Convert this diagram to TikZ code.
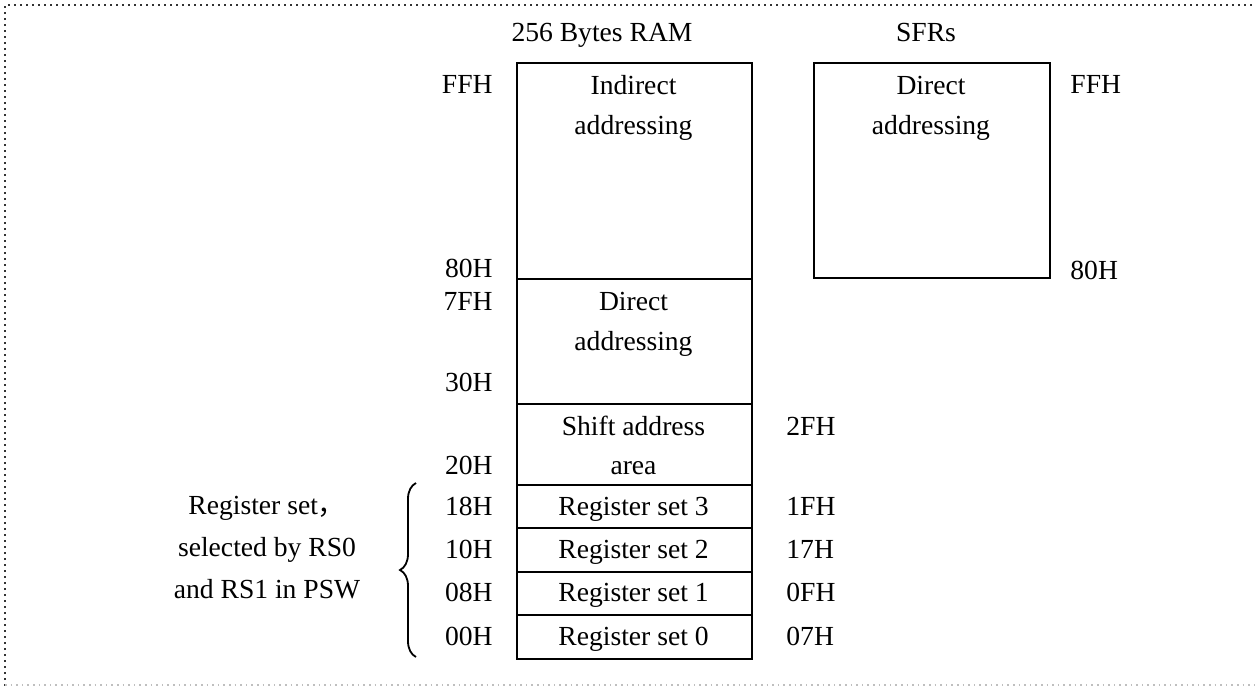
\documentclass[tikz,border=0pt]{standalone}
\usepackage{fontspec}
\setmainfont{Liberation Serif}
\newfontfamily\cjk{Noto Sans CJK SC}
\usetikzlibrary{decorations.pathreplacing}

\tikzset{
  memcell/.style={draw, line width=1.1pt, inner sep=0pt, anchor=north west},
  txt/.style={font=\fontsize{13.8}{16}\selectfont, inner sep=0pt, anchor=base},
  addrL/.style={txt, anchor=base east},
  addrR/.style={txt, anchor=base west},
}

\begin{document}
\begin{tikzpicture}[x=0.5pt,y=-0.5pt]
\useasboundingbox (0,0) rectangle (1255,686);

% Rahmen
\draw[dotted, line width=1pt, black!80] (5,686) -- (5,5) -- (1255,5);
\draw[dotted, line width=0.8pt, black!25] (5,685) -- (1255,685);

% Ueberschriften
\node[txt] (ramtitle) at (602,41) {256 Bytes RAM};
\node[txt] (sfrtitle) at (926,41) {SFRs};

% RAM-Spalte
\node[memcell, minimum width=117.5pt, minimum height=108pt] (indirect) at (516,62) {};
\node[memcell, minimum width=117.5pt, minimum height=62.5pt] (direct) at (516,278) {};
\node[memcell, minimum width=117.5pt, minimum height=40.25pt] (shift) at (516,403) {};
\foreach \k/\lo/\hi in {0/00H/07H, 1/08H/0FH, 2/10H/17H, 3/18H/1FH} {
  \node[memcell, minimum width=117.5pt, minimum height=21.75pt] (rs\k) at (516,{614-43.5*\k}) {};
  \node[txt] (rstext\k) at (633.5,{645-43.25*\k}) {Register set \k};
  \node[addrL] (rslo\k) at (493,{645-43.25*\k}) {\lo};
  \node[addrR] (rshi\k) at (786,{645-43.25*\k}) {\hi};
}

% SFR-Spalte
\node[memcell, minimum width=118pt, minimum height=107.5pt] (sfr) at (813,62) {};

% Texte in den Bereichen
\node[txt] (indirect1) at (633.5,94) {Indirect};
\node[txt] (indirect2) at (633.5,134) {addressing};
\node[txt] (direct1) at (633.5,310) {Direct};
\node[txt] (direct2) at (633.5,350) {addressing};
\node[txt] (shift1) at (633.5,435) {Shift address};
\node[txt] (shift2) at (633.5,474) {area};
\node[txt] (sfr1) at (931,94) {Direct};
\node[txt] (sfr2) at (931,134) {addressing};

% Adressen
\node[addrL] (ffl) at (493,93) {FFH};
\node[addrL] (eightyl) at (493,277) {80H};
\node[addrL] (sevenf) at (493,310) {7FH};
\node[addrL] (thirty) at (493,391) {30H};
\node[addrL] (twenty) at (493,474) {20H};
\node[addrR] (twof) at (786,435) {2FH};
\node[addrR] (ffr) at (1070,93) {FFH};
\node[addrR] (eightyr) at (1070,279) {80H};

% Klammer und Erklaerung
\coordinate (brbot) at (416,657);
\coordinate (brtop) at (416,483);
\draw[line width=0.9pt, decorate, decoration={brace, amplitude=8pt}] (brbot) -- (brtop);
\node[txt] (rsinfo1) at (267,514) {Register set{\cjk ，}};
\node[txt] (rsinfo2) at (267,556) {selected by RS0};
\node[txt] (rsinfo3) at (267,598) {and RS1 in PSW};

\end{tikzpicture}
\end{document}
